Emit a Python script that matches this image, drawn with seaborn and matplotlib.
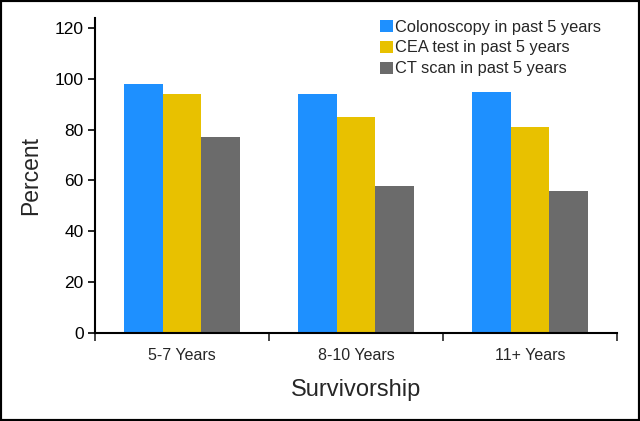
import pandas as pd
import seaborn as sns
import matplotlib
matplotlib.use("Agg")
import matplotlib.pyplot as plt
from matplotlib.patches import Rectangle

groups = ["5-7 Years", "8-10 Years", "11+ Years"]
tests = ["Colonoscopy in past 5 years", "CEA test in past 5 years", "CT scan in past 5 years"]
colonoscopy = [98, 94, 95]
cea = [94, 85, 81]
ct_scan = [77, 58, 56]
colors = ["#1E90FF", "#E8C100", "#6B6B6B"]

df = pd.DataFrame({
    "group": groups * 3,
    "test": [t for t in tests for _ in groups],
    "percent": colonoscopy + cea + ct_scan,
})

sns.set_style("white")
plt.rcParams["font.family"] = ["Liberation Sans", "DejaVu Sans"]

fig = plt.figure(figsize=(6.4, 4.21), dpi=100)
ax = fig.add_axes([0.1484, 0.209, 0.8156, 0.7487])

sns.barplot(data=df, x="group", y="percent", hue="test", order=groups,
            hue_order=tests, palette=colors, width=0.667, gap=0,
            saturation=1, ax=ax, linewidth=0)

ax.set_ylim(0, 124)
ax.set_xlim(-0.5, 2.5)
ax.set_yticks(range(0, 121, 20))
ax.tick_params(axis="y", labelsize=12.5, length=5, width=1.2, direction="out",
               pad=3, colors="black", left=True)

# category boundaries get the tick marks, centres get the labels
ax.set_xticks([-0.5, 0.5, 1.5, 2.5])
ax.set_xticklabels([])
ax.set_xticks([0, 1, 2], minor=True)
ax.set_xticklabels(groups, minor=True)
ax.tick_params(axis="x", which="major", length=6, width=1.2, direction="out",
               bottom=True)
ax.tick_params(axis="x", which="minor", length=0, labelsize=11.5, pad=11)

for side in ["top", "right"]:
    ax.spines[side].set_visible(False)
for side in ["left", "bottom"]:
    ax.spines[side].set_color("black")
    ax.spines[side].set_linewidth(1.5)

ax.set_ylabel("Percent", fontsize=16.5, labelpad=9)
ax.set_xlabel("Survivorship", fontsize=17, labelpad=11)

ax.legend(loc="upper left", bbox_to_anchor=(0.528, 1.025), frameon=False,
          fontsize=11.8, handlelength=0.75, handleheight=0.75,
          handletextpad=0.15, labelspacing=0.35, borderaxespad=0.2)

fig.patches.append(Rectangle((0, 0), 1, 1, transform=fig.transFigure,
                             fill=False, edgecolor="black", linewidth=3))

fig.savefig("out.png", dpi=100)
